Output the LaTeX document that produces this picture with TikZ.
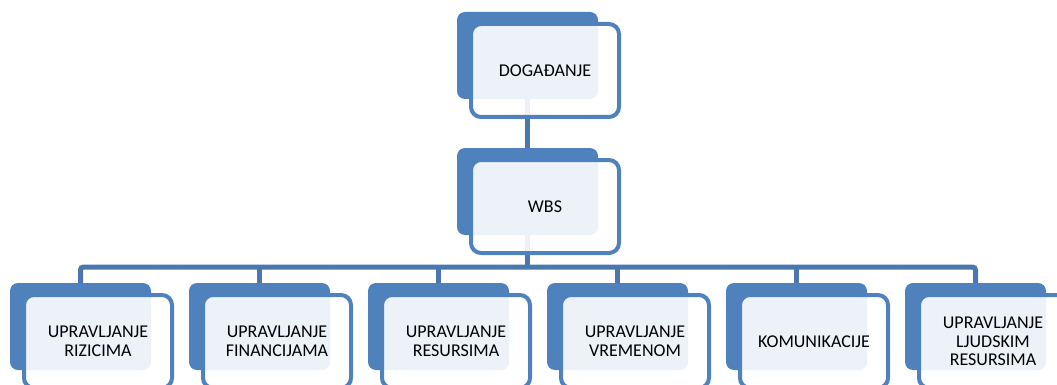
\documentclass[tikz,border=0pt]{standalone}
\usepackage{fontspec}
\setmainfont{Carlito}
\definecolor{acc}{HTML}{4F81BD}
\definecolor{connc}{HTML}{4A77AF}
\begin{document}
\begin{tikzpicture}[x=1pt,y=-1pt,
  darkbox/.style={fill=acc, rounded corners=8pt, minimum width=141pt, minimum height=87pt, inner sep=0pt, outer sep=0pt},
  frontbox/.style={draw=acc, line width=4pt, fill=white, fill opacity=0.9, text opacity=1, rounded corners=10pt,
    minimum width=148pt, minimum height=93pt, inner sep=0pt, outer sep=0pt, align=center,
    font=\fontsize{18}{18.5}\selectfont, text=black},
  conn/.style={draw=connc, line width=5pt}]
\useasboundingbox (0,0) rectangle (1057,385);
\clip (0,0) rectangle (1057,385);
% back boxes
\node[darkbox] (top) at (527.5,55.5) {};
\node[darkbox] (wbs) at (527.5,191.5) {};
\foreach \i/\X in {1/10,2/189,3/368,4/547,5/726,6/905}{
  \node[darkbox] (b\i) at (\X+70.5,326.5) {};
}
% connectors
\coordinate (busmid) at (527.5,267);
\draw[conn] (top.south) -- (wbs.north);
\draw[conn] (wbs.south) -- (busmid);
\draw[conn, rounded corners=3pt] (b1.north) |- (busmid) -| (b6.north);
\foreach \i in {2,3,4,5}{
  \draw[conn] (b\i.north) -- (b\i.north |- busmid);
}
% front boxes
\node[frontbox] (ftop) at (545,70.5) {DOGAĐANJE};
\node[frontbox] (fwbs) at (545,206.5) {WBS};
\node[frontbox] (f1) at (98,341.5) {UPRAVLJANJE\\RIZICIMA};
\node[frontbox] (f2) at (277,341.5) {UPRAVLJANJE\\FINANCIJAMA};
\node[frontbox] (f3) at (456,341.5) {UPRAVLJANJE\\RESURSIMA};
\node[frontbox] (f4) at (635,341.5) {UPRAVLJANJE\\VREMENOM};
\node[frontbox] (f5) at (814,341.5) {KOMUNIKACIJE};
\node[frontbox] (f6) at (993,341.5) {UPRAVLJANJE\\LJUDSKIM\\RESURSIMA};
\end{tikzpicture}
\end{document}
